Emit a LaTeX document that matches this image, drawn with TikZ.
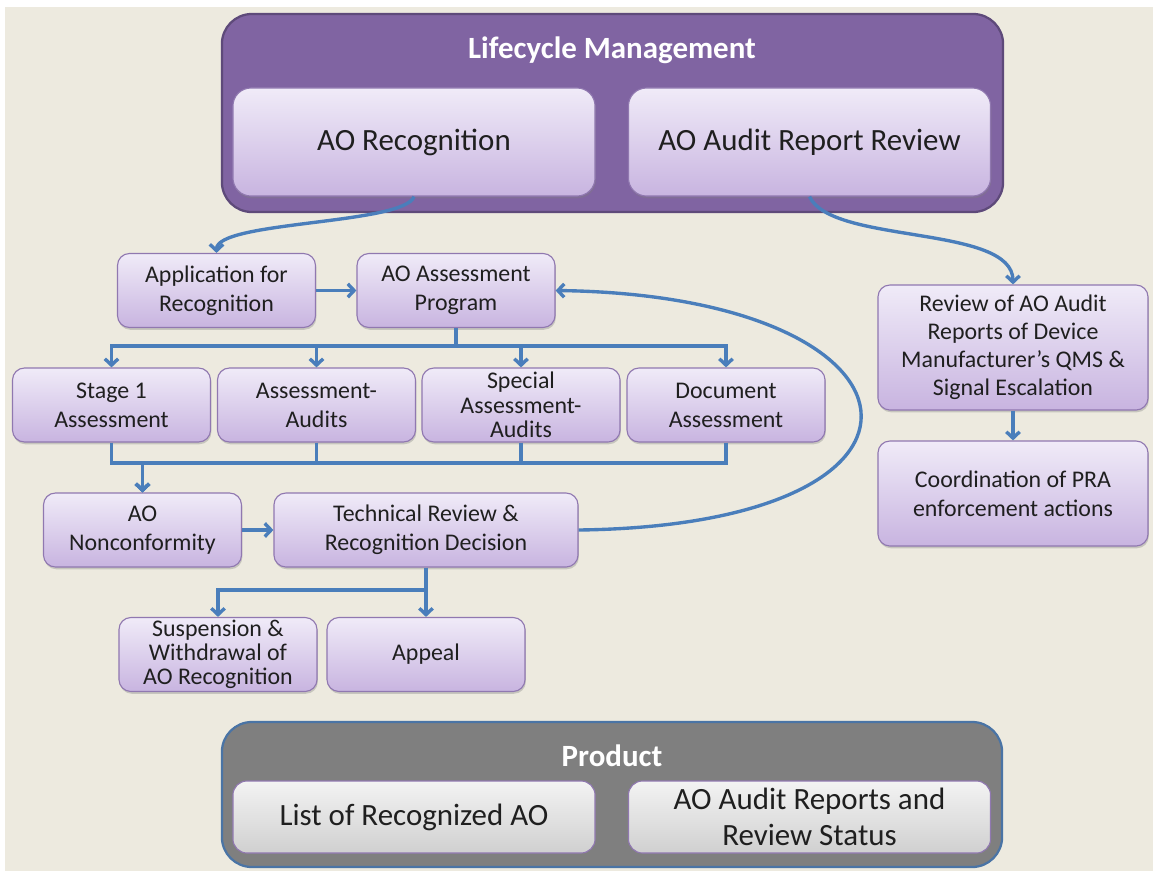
\documentclass[tikz,border=0pt]{standalone}
\usepackage{fontspec}
\setmainfont{Carlito}
\usetikzlibrary{arrows.meta,shadows}

\definecolor{pagebg}{HTML}{EDEADF}
\definecolor{lcfill}{HTML}{8064A2}
\definecolor{lcline}{HTML}{5E4A7A}
\definecolor{boxtop}{HTML}{F0EBF8}
\definecolor{boxbot}{HTML}{C8B4E0}
\definecolor{boxline}{HTML}{9078B0}
\definecolor{prodfill}{HTML}{7F7F7F}
\definecolor{prodline}{HTML}{4A74A5}
\definecolor{greytop}{HTML}{F3F3F3}
\definecolor{greybot}{HTML}{D0D0D0}
\definecolor{linkblue}{HTML}{4A7EBB}

\tikzset{
  box/.style={draw=boxline, line width=0.8pt, rounded corners=0.3cm,
    top color=boxtop, bottom color=boxbot, align=center, inner sep=1pt,
    text=black!88, font=\fontsize{17}{20.5}\selectfont,
    minimum width=4.95cm, minimum height=1.85cm,
    drop shadow={shadow xshift=0.6pt, shadow yshift=-1.6pt, opacity=0.35}},
  bigbox/.style={box, rounded corners=0.45cm, minimum width=9.05cm,
    minimum height=2.7cm, font=\fontsize{22}{26}\selectfont},
  prodbox/.style={bigbox, top color=greytop, bottom color=greybot,
    minimum height=1.8cm, rounded corners=0.35cm},
  frame/.style={rounded corners=0.75cm, line width=1.6pt},
  title/.style={text=white, font=\fontsize{22}{26}\selectfont\bfseries},
  line/.style={draw=linkblue, line width=2.4pt},
  link/.style={line, -{Straight Barb[length=4.5pt,width=9.5pt]}}
}

\begin{document}
\begin{tikzpicture}[x=0.025cm, y=-0.025cm]
  \useasboundingbox (0,0) rectangle (1153,871);
  \fill[white] (0,0) rectangle (1153,871);
  \fill[pagebg] (5,7) rectangle (1153,871);

  \node[frame, draw=lcline, fill=lcfill, minimum width=19.525cm, minimum height=4.95cm] (lcm) at (612.5,113) {};
  \node[title] (lcmtitle) at (612,50) {Lifecycle Management};
  \node[bigbox] (aorec) at (414,142) {AO Recognition};
  \node[bigbox] (aoarr) at (809.5,142) {AO Audit Report Review};

  \node[box] (app) at (216.5,290.5) {Application for\\Recognition};
  \node[box] (prog) at (456,290.5) {AO Assessment\\Program};
  \node[box] (stage) at (111.5,405) {Stage 1\\Assessment};
  \node[box] (audits) at (316.5,405) {Assessment-\\Audits};
  \node[box, font=\fontsize{17}{17.5}\selectfont] (special) at (521,405) {Special\\Assessment-\\Audits};
  \node[box] (docas) at (726,405) {Document\\Assessment};
  \node[box] (nonconf) at (142.5,530) {AO\\Nonconformity};
  \node[box, minimum width=7.6cm] (techrev) at (426,530) {Technical Review \&\\Recognition Decision};
  \node[box, font=\fontsize{17}{17}\selectfont] (susp) at (218,654.5) {Suspension \&\\Withdrawal of\\AO Recognition};
  \node[box] (appeal) at (426,654.5) {Appeal};

  \node[box, minimum width=6.75cm, minimum height=3.125cm, font=\fontsize{17}{20}\selectfont] (review) at (1013,347.5) {Review of AO Audit\\Reports of Device\\Manufacturer’s QMS \&\\Signal Escalation};
  \node[box, minimum width=6.75cm, minimum height=2.625cm] (coord) at (1013,493.5) {Coordination of PRA\\enforcement actions};

  \node[frame, draw=prodline, fill=prodfill, minimum width=19.5cm, minimum height=3.625cm] (prod) at (612,794.5) {};
  \node[title] (prodtitle) at (612,756) {Product};
  \node[prodbox] (list) at (414,817) {List of Recognized AO};
  \node[prodbox] (reports) at (809.5,817) {AO Audit Reports and\\Review Status};

  \coordinate (bus1) at (456,346);
  \coordinate (bus2) at (142.5,463);
  \coordinate (split) at (426,590);

  \draw[link] (aorec.south) .. controls +(-10,28) and +(0,-32) .. (app.north);
  \draw[link] (aoarr.south) .. controls +(22,48) and +(0,-60) .. (review.north);
  \draw[link] (app.east) -- (prog.west);
  \foreach \n in {stage,audits,special,docas}
    \draw[link] (prog.south) -- (bus1) -| (\n.north);
  \foreach \n in {stage,audits,special,docas}
    \draw[link] (\n.south) |- (bus2) -- (nonconf.north);
  \draw[link] (nonconf.east) -- (techrev.west);
  \draw[link] (techrev.east) .. controls +(397,-5) and +(385,5) .. (prog.east);
  \draw[link] (techrev.south) -- (split) -| (susp.north);
  \draw[link] (techrev.south) -- (appeal.north);
  \draw[link] (review.south) -- (coord.north);
\end{tikzpicture}
\end{document}
